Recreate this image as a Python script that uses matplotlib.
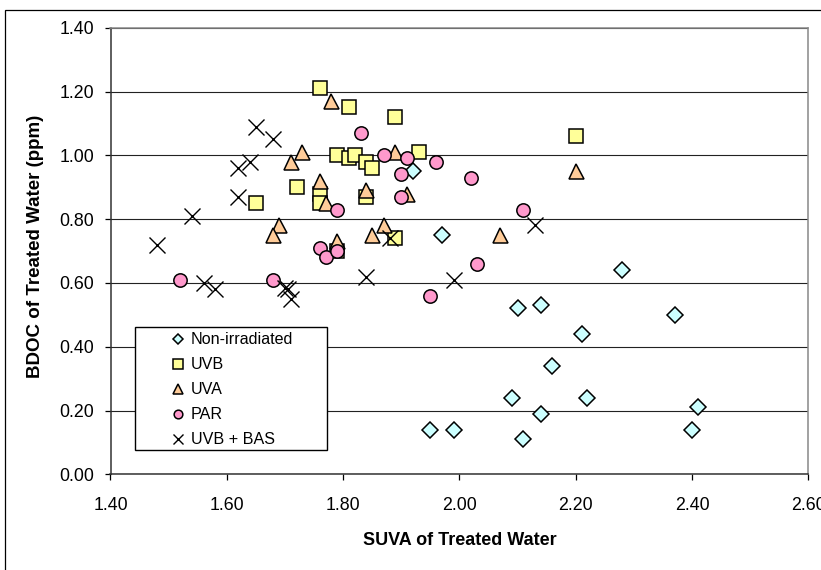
import matplotlib
matplotlib.use('Agg')
import matplotlib.pyplot as plt
from matplotlib.patches import Rectangle

plt.rcParams['font.family'] = ['Liberation Sans', 'DejaVu Sans']

W, H = 821, 570

# ---- data ----
series_names = ['Non-irradiated', 'UVB', 'UVA', 'PAR', 'UVB + BAS']

non_x = [1.92, 1.97, 2.28, 2.10, 2.14, 2.37, 2.21, 2.16, 2.09, 2.22, 2.14, 2.41, 2.40, 1.95, 1.99, 2.11]
non_y = [0.95, 0.75, 0.64, 0.52, 0.53, 0.50, 0.44, 0.34, 0.24, 0.24, 0.19, 0.21, 0.14, 0.14, 0.14, 0.11]

uvb_x = [1.76, 1.81, 1.89, 1.79, 1.81, 1.82, 1.84, 1.85, 1.93, 1.72, 1.65, 1.76, 1.76, 1.84, 1.89, 1.79, 2.20]
uvb_y = [1.21, 1.15, 1.12, 1.00, 0.99, 1.00, 0.98, 0.96, 1.01, 0.90, 0.85, 0.88, 0.85, 0.87, 0.74, 0.70, 1.06]

uva_x = [1.78, 1.73, 1.71, 1.89, 1.76, 1.77, 1.84, 1.91, 1.69, 1.68, 1.87, 1.85, 1.79, 2.07, 2.20]
uva_y = [1.17, 1.01, 0.98, 1.01, 0.92, 0.85, 0.89, 0.88, 0.78, 0.75, 0.78, 0.75, 0.73, 0.75, 0.95]

par_x = [1.83, 1.87, 1.91, 1.96, 1.90, 2.02, 1.90, 1.79, 2.11, 1.76, 1.77, 1.79, 1.68, 1.95, 2.03, 1.52]
par_y = [1.07, 1.00, 0.99, 0.98, 0.94, 0.93, 0.87, 0.83, 0.83, 0.71, 0.68, 0.70, 0.61, 0.56, 0.66, 0.61]

bas_x = [1.65, 1.68, 1.64, 1.62, 1.62, 1.54, 1.48, 1.56, 1.58, 1.70, 1.705, 1.71, 1.84, 1.99, 2.13, 1.88]
bas_y = [1.09, 1.05, 0.98, 0.96, 0.87, 0.81, 0.72, 0.60, 0.58, 0.585, 0.58, 0.55, 0.62, 0.61, 0.78, 0.74]

x_ticks = [1.40, 1.60, 1.80, 2.00, 2.20, 2.40, 2.60]
y_ticks = [0.00, 0.20, 0.40, 0.60, 0.80, 1.00, 1.20, 1.40]

# ---- figure ----
fig = plt.figure(figsize=(W / 100, H / 100), dpi=100)
fig.patch.set_facecolor('white')

L, R, T, B = 110.5, 808.3, 27.7, 474.3
ax = fig.add_axes([L / W, 1 - B / H, (R - L) / W, (B - T) / H])
ax.set_xlim(1.4, 2.6)
ax.set_ylim(0, 1.4)
ax.set_xticks(x_ticks)
ax.set_yticks(y_ticks)
ax.set_xticklabels([f'{v:.2f}' for v in x_ticks])
ax.set_yticklabels([f'{v:.2f}' for v in y_ticks])
ax.yaxis.grid(True, color='#222222', lw=0.8)
ax.set_axisbelow(True)

for s in ['left', 'bottom']:
    ax.spines[s].set_color('#333333')
    ax.spines[s].set_linewidth(1.1)
for s in ['top', 'right']:
    ax.spines[s].set_color('#888888')
    ax.spines[s].set_linewidth(1.1)

ax.tick_params(axis='both', direction='out', length=4.3, width=0.9,
               labelsize=12.8, colors='black')
ax.tick_params(axis='x', pad=12)
ax.tick_params(axis='y', pad=7.5)

ec = 'black'
mew = 1.1
h1, = ax.plot(non_x, non_y, linestyle='none', marker='D', markersize=8,
              markerfacecolor='#CCFFFF', markeredgecolor=ec, markeredgewidth=mew,
              zorder=3, label=series_names[0])
h2, = ax.plot(uvb_x, uvb_y, linestyle='none', marker='s', markersize=10,
              markerfacecolor='#FFFF99', markeredgecolor=ec, markeredgewidth=mew,
              zorder=3.1, label=series_names[1])
h3, = ax.plot(uva_x, uva_y, linestyle='none', marker='^', markersize=10.8,
              markerfacecolor='#FFCC99', markeredgecolor=ec, markeredgewidth=mew,
              zorder=3.2, label=series_names[2])
h4, = ax.plot(par_x, par_y, linestyle='none', marker='o', markersize=9.6,
              markerfacecolor='#FF99CC', markeredgecolor=ec, markeredgewidth=mew,
              zorder=3.3, label=series_names[3])
h5, = ax.plot(bas_x, bas_y, linestyle='none', marker='x', markersize=11.5,
              markeredgecolor='black', markeredgewidth=1.0,
              zorder=3.4, label=series_names[4])

# legend frame
lx0, lx1, ly0, ly1 = 135, 327, 327, 450
ax.add_patch(Rectangle(((lx0 - L) / (R - L), (B - ly1) / (B - T)),
                       (lx1 - lx0) / (R - L), (ly1 - ly0) / (B - T),
                       transform=ax.transAxes, facecolor='white',
                       edgecolor='black', lw=1.0, zorder=4.5))
leg = ax.legend(handles=[h1, h2, h3, h4, h5], loc='upper left',
                bbox_to_anchor=((170.3 - L) / (R - L), (B - 332.5) / (B - T)),
                frameon=False, borderpad=0, borderaxespad=0,
                handlelength=1.0, handletextpad=0.29, labelspacing=0.62,
                markerscale=0.65, fontsize=11.6, numpoints=1)
leg.set_zorder(5)

# axis titles
fig.text((L + R) / 2 / W, 1 - 540.5 / H, 'SUVA of Treated Water',
         ha='center', va='center', fontsize=13, fontweight='bold')
fig.text(35 / W, 1 - 246 / H, 'BDOC of Treated Water (ppm)',
         ha='center', va='center', rotation=90, fontsize=13.5, fontweight='bold')

# chart area border
fig.add_artist(Rectangle((5 / W, -0.1), 1.5, 1 - 10 / H + 0.1,
                         transform=fig.transFigure, fill=False,
                         edgecolor='black', lw=0.9))

fig.savefig('out.png', dpi=100)
